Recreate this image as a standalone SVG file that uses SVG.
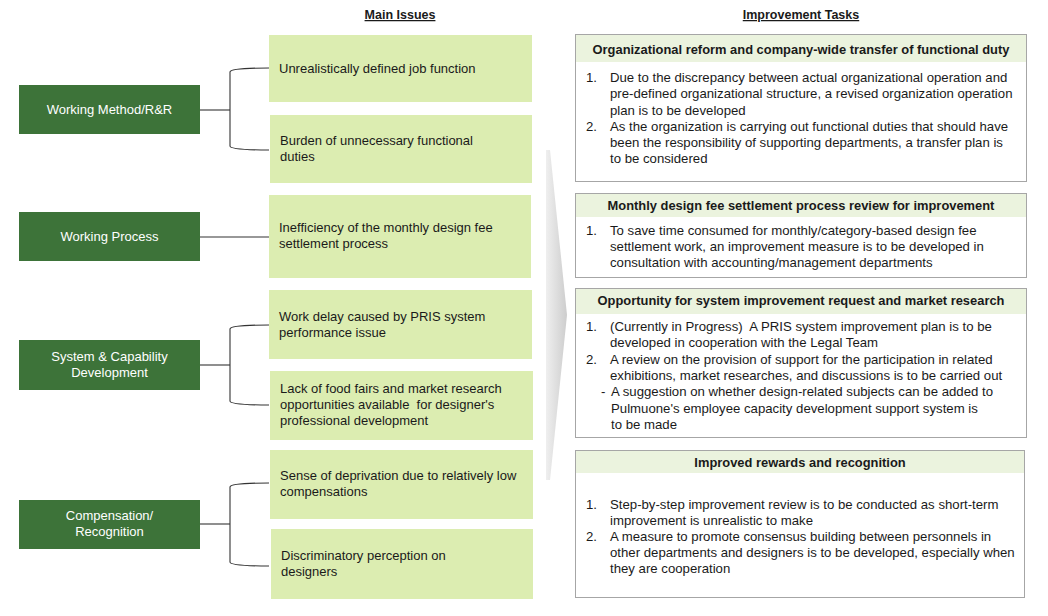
<svg xmlns="http://www.w3.org/2000/svg" width="1048" height="616" viewBox="0 0 1048 616">
<defs>
<linearGradient id="chev" x1="0" y1="0" x2="1" y2="0">
<stop offset="0" stop-color="#efefef"/>
<stop offset="1" stop-color="#cdcdcd"/>
</linearGradient>
<style>
text{font-family:"Liberation Sans",Arial,sans-serif;font-size:13px;fill:#1a1a1a;white-space:pre}
.title{font-weight:bold;text-decoration:underline;text-anchor:middle;font-size:12.5px}
.cat rect{fill:#3d7339}
.cat text{fill:#ffffff;text-anchor:middle}
.issue rect{fill:#dcedb1}
.task text{font-size:13.2px}
.task .frame{fill:#ffffff;stroke:#a6a6a6;stroke-width:1}
.task .head{fill:#ebf3de}
.task .ht{font-weight:bold;text-anchor:middle;font-size:12.9px}
.conn path{fill:none;stroke:#333333;stroke-width:1.1}
</style>
</defs>
<rect width="1048" height="616" fill="#ffffff"/>

<text class="title" x="400" y="19">Main Issues</text>
<text class="title" x="801" y="19">Improvement Tasks</text>

<polygon id="chevron" points="546,150 550,150 567,315 550,480 546,480" fill="url(#chev)"/>

<g class="conn" id="connectors">
<path d="M200,110 H230"/>
<path d="M269,68 C245,68 230,69 230,72 V146 C230,149 245,150 269,150"/>
<path d="M200,237 H269"/>
<path d="M200,365 H230"/>
<path d="M269,325 C245,325 230,326 230,329 V401 C230,404 245,405 269,405"/>
<path d="M200,524 H230"/>
<path d="M269,483 C245,483 230,484 230,487 V562 C230,565 245,566 269,566"/>
</g>

<g class="cat" id="cat-working-method"><rect x="19" y="85" width="181" height="49"/><text x="109.5" y="114">Working Method/R&amp;R</text></g>
<g class="cat" id="cat-working-process"><rect x="19" y="212" width="181" height="49"/><text x="109.5" y="241">Working Process</text></g>
<g class="cat" id="cat-system"><rect x="19" y="340" width="181" height="50"/><text x="109.5" y="361">System &amp; Capability</text><text x="109.5" y="377">Development</text></g>
<g class="cat" id="cat-compensation"><rect x="19" y="500" width="181" height="49"/><text x="109.5" y="520">Compensation/</text><text x="109.5" y="536">Recognition</text></g>

<g class="issue" id="issue-1"><rect x="269" y="35" width="263" height="67"/><text x="279" y="73">Unrealistically defined job function</text></g>
<g class="issue" id="issue-2"><rect x="270" y="115" width="262" height="68"/><text x="280" y="145">Burden of unnecessary functional</text><text x="280" y="161">duties</text></g>
<g class="issue" id="issue-3"><rect x="269" y="195" width="262" height="83"/><text x="279" y="232">Inefficiency of the monthly design fee</text><text x="279" y="248">settlement process</text></g>
<g class="issue" id="issue-4"><rect x="269" y="290" width="263" height="69"/><text x="279" y="321">Work delay caused by PRIS system</text><text x="279" y="337">performance issue</text></g>
<g class="issue" id="issue-5"><rect x="270" y="371" width="263" height="69"/><text x="280" y="393">Lack of food fairs and market research</text><text x="280" y="409">opportunities available  for designer's</text><text x="280" y="425">professional development</text></g>
<g class="issue" id="issue-6"><rect x="270" y="450" width="263" height="69"/><text x="280" y="480">Sense of deprivation due to relatively low</text><text x="280" y="496">compensations</text></g>
<g class="issue" id="issue-7"><rect x="271" y="529" width="262" height="70"/><text x="281" y="560">Discriminatory perception on</text><text x="281" y="576">designers</text></g>

<g class="task" id="task-1">
<rect class="frame" x="575.5" y="34.5" width="451" height="147"/>
<rect class="head" x="576" y="35" width="450" height="27"/>
<text class="ht" x="801" y="54">Organizational reform and company-wide transfer of functional duty</text>
<text x="586" y="82">1.</text><text x="610" y="82">Due to the discrepancy between actual organizational operation and</text>
<text x="610" y="98">pre-defined organizational structure, a revised organization operation</text>
<text x="610" y="115">plan is to be developed</text>
<text x="586" y="131">2.</text><text x="610" y="131">As the organization is carrying out functional duties that should have</text>
<text x="610" y="147">been the responsibility of supporting departments, a transfer plan is</text>
<text x="610" y="163">to be considered</text>
</g>

<g class="task" id="task-2">
<rect class="frame" x="575.5" y="193.5" width="451" height="84"/>
<rect class="head" x="576" y="194" width="450" height="23"/>
<text class="ht" x="801" y="210">Monthly design fee settlement process review for improvement</text>
<text x="586" y="235">1.</text><text x="610" y="235">To save time consumed for monthly/category-based design fee</text>
<text x="610" y="251">settlement work, an improvement measure is to be developed in</text>
<text x="610" y="267">consultation with accounting/management departments</text>
</g>

<g class="task" id="task-3">
<rect class="frame" x="575.5" y="288.5" width="451" height="149"/>
<rect class="head" x="576" y="289" width="450" height="25"/>
<text class="ht" x="801" y="305">Opportunity for system improvement request and market research</text>
<text x="586" y="331">1.</text><text x="610" y="331">(Currently in Progress)  A PRIS system improvement plan is to be</text>
<text x="610" y="347">developed in cooperation with the Legal Team</text>
<text x="586" y="364">2.</text><text x="610" y="364">A review on the provision of support for the participation in related</text>
<text x="610" y="380">exhibitions, market researches, and discussions is to be carried out</text>
<text x="601" y="396">-</text><text x="611" y="396">A suggestion on whether design-related subjects can be added to</text>
<text x="611" y="413">Pulmuone's employee capacity development support system is</text>
<text x="611" y="429">to be made</text>
</g>

<g class="task" id="task-4">
<rect class="frame" x="575.5" y="450.5" width="449" height="147"/>
<rect class="head" x="576" y="451" width="448" height="22"/>
<text class="ht" x="800" y="467">Improved rewards and recognition</text>
<text x="586" y="509">1.</text><text x="610" y="509">Step-by-step improvement review is to be conducted as short-term</text>
<text x="610" y="525">improvement is unrealistic to make</text>
<text x="586" y="541">2.</text><text x="610" y="541">A measure to promote consensus building between personnels in</text>
<text x="610" y="557">other departments and designers is to be developed, especially when</text>
<text x="610" y="573">they are cooperation</text>
</g>
</svg>
